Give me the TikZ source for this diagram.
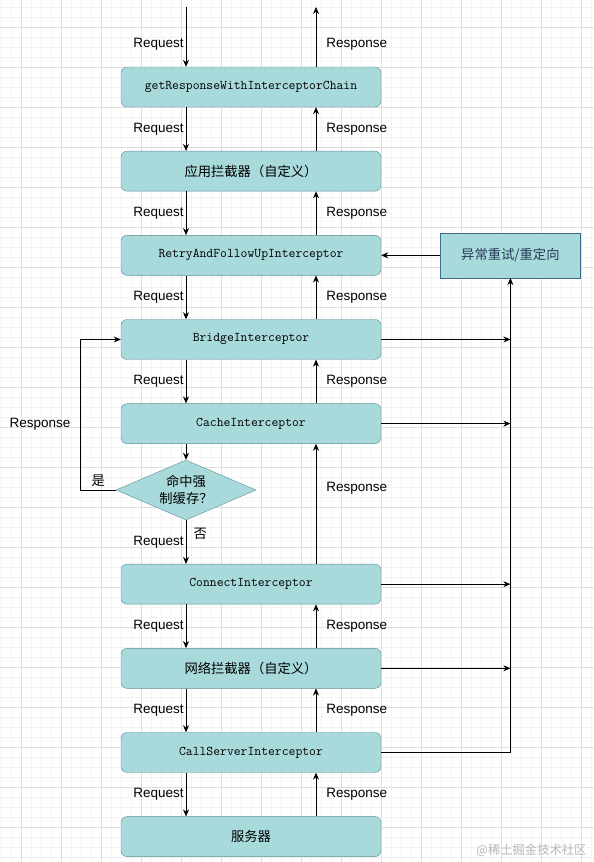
\documentclass[tikz,border=0pt]{standalone}
\usepackage{fontspec}
\setmainfont{Liberation Sans}
\newfontfamily\cjk{Noto Sans CJK SC}
\usetikzlibrary{shapes.geometric,arrows.meta,positioning}
\definecolor{boxfill}{RGB}{168,218,220}
\definecolor{boxline}{RGB}{92,140,148}
\definecolor{redirline}{RGB}{62,108,145}
\definecolor{redirtext}{RGB}{38,58,88}
\definecolor{gridmajor}{RGB}{222,222,222}
\definecolor{gridminor}{RGB}{243,243,243}

\begin{document}
\begin{tikzpicture}[
    x=1pt, y=-1pt,
    node distance=43.75pt,
    block/.style={rectangle, draw=boxline, fill=boxfill, minimum width=260pt, minimum height=40pt, rounded corners=6pt, inner sep=0pt, font=\ttfamily\fontsize{13.3}{16}\selectfont},
    decision/.style={diamond, draw=boxline, fill=boxfill, minimum width=140pt, minimum height=60pt, aspect=2.33, inner sep=0pt, align=center, font=\cjk\fontsize{13.3}{17}\selectfont},
    redirect/.style={rectangle, draw=redirline, fill=boxfill, minimum width=140pt, minimum height=45pt, text=redirtext, font=\cjk\fontsize{13.3}{16}\selectfont},
    reqlabel/.style={left, inner sep=2pt, font=\fontsize{13.5}{16}\selectfont},
    reslabel/.style={right=8pt, inner sep=2pt, font=\fontsize{13.5}{16}\selectfont},
    line/.style={draw, line width=0.8pt, -{Stealth[length=7pt, width=6pt]}}
]

% canvas and grid
\useasboundingbox (0,0) rectangle (594,862);
\fill [white] (0,0) rectangle (594,862);
\foreach \gx in {1,11,...,591} \draw [gridminor, line width=0.6pt] (\gx,0) -- (\gx,862);
\foreach \gy in {7,17,...,857} \draw [gridminor, line width=0.6pt] (0,\gy) -- (594,\gy);
\foreach \gx in {21,61,...,581} \draw [gridmajor, line width=0.7pt] (\gx,0) -- (\gx,862);
\foreach \gy in {27,67,...,827} \draw [gridmajor, line width=0.7pt] (0,\gy) -- (594,\gy);

\node [block] (chain) at (251,87) {getResponseWithInterceptorChain};
\node [block, below=of chain] (appint) {\cjk 应用拦截器（自定义）};
\node [block, below=of appint] (retry) {RetryAndFollowUpInterceptor};
\node [block, below=of retry] (bridge) {BridgeInterceptor};
\node [block, below=of bridge] (cache) {CacheInterceptor};
\node [decision, below=16pt of cache, xshift=-65pt] (hit) {命中强\\制缓存？};
\node [block, below=of hit, xshift=65pt] (connect) {ConnectInterceptor};
\node [block, below=of connect] (netint) {\cjk 网络拦截器（自定义）};
\node [block, below=of netint] (callsrv) {CallServerInterceptor};
\node [block, below=of callsrv] (server) {\cjk 服务器};

\node [redirect, right=59pt of retry] (redir) {异常重试/重定向};

\coordinate (reqin) at (186,7);
\coordinate (resout) at (316,7);

\path [line] (reqin) -- node [reqlabel, pos=0.62] {Request} ([xshift=-65pt]chain.north);
\path [line] ([xshift=65pt]chain.north) -- node [reslabel, pos=0.38] {Response} (resout);

\path [line] ([xshift=-65pt]chain.south) -- node [reqlabel] {Request} ([xshift=-65pt]appint.north);
\path [line] ([xshift=65pt]appint.north) -- node [reslabel] {Response} ([xshift=65pt]chain.south);
\path [line] ([xshift=-65pt]appint.south) -- node [reqlabel] {Request} ([xshift=-65pt]retry.north);
\path [line] ([xshift=65pt]retry.north) -- node [reslabel] {Response} ([xshift=65pt]appint.south);
\path [line] ([xshift=-65pt]retry.south) -- node [reqlabel] {Request} ([xshift=-65pt]bridge.north);
\path [line] ([xshift=65pt]bridge.north) -- node [reslabel] {Response} ([xshift=65pt]retry.south);
\path [line] ([xshift=-65pt]bridge.south) -- node [reqlabel] {Request} ([xshift=-65pt]cache.north);
\path [line] ([xshift=65pt]cache.north) -- node [reslabel] {Response} ([xshift=65pt]bridge.south);

\path [line] ([xshift=-65pt]cache.south) -- (hit.north);
\path [line] (hit.south) -- node [reqlabel] {Request} node [right=4pt, pos=0.3, font=\cjk\fontsize{13.3}{16}\selectfont] {否} ([xshift=-65pt]connect.north);
\path [line] (hit.west) -- node [above, inner sep=3pt, font=\cjk\fontsize{13.3}{16}\selectfont] {是} ++(-35pt,0) |- node [left=8pt, pos=0.22, inner sep=2pt, font=\fontsize{13.5}{16}\selectfont] {Response} (bridge.west);
\path [line] ([xshift=65pt]connect.north) -- node [reslabel, pos=0.63] {Response} ([xshift=65pt]cache.south);

\path [line] ([xshift=-65pt]connect.south) -- node [reqlabel] {Request} ([xshift=-65pt]netint.north);
\path [line] ([xshift=65pt]netint.north) -- node [reslabel] {Response} ([xshift=65pt]connect.south);
\path [line] ([xshift=-65pt]netint.south) -- node [reqlabel] {Request} ([xshift=-65pt]callsrv.north);
\path [line] ([xshift=65pt]callsrv.north) -- node [reslabel] {Response} ([xshift=65pt]netint.south);
\path [line] ([xshift=-65pt]callsrv.south) -- node [reqlabel] {Request} ([xshift=-65pt]server.north);
\path [line] ([xshift=65pt]server.north) -- node [reslabel] {Response} ([xshift=65pt]callsrv.south);

% exceptions go back to the retry interceptor
\path [line] (bridge.east) -- (bridge.east -| redir.south);
\path [line] (cache.east) -- (cache.east -| redir.south);
\path [line] (connect.east) -- (connect.east -| redir.south);
\path [line] (netint.east) -- (netint.east -| redir.south);
\path [line] (callsrv.east) -| (redir.south);
\path [line] (redir.west) -- (retry.east);

\node [anchor=east, text=black!28, font=\cjk\fontsize{12.3}{14}\selectfont] (mark) at (590,850) {@稀土掘金技术社区};

\end{tikzpicture}
\end{document}
